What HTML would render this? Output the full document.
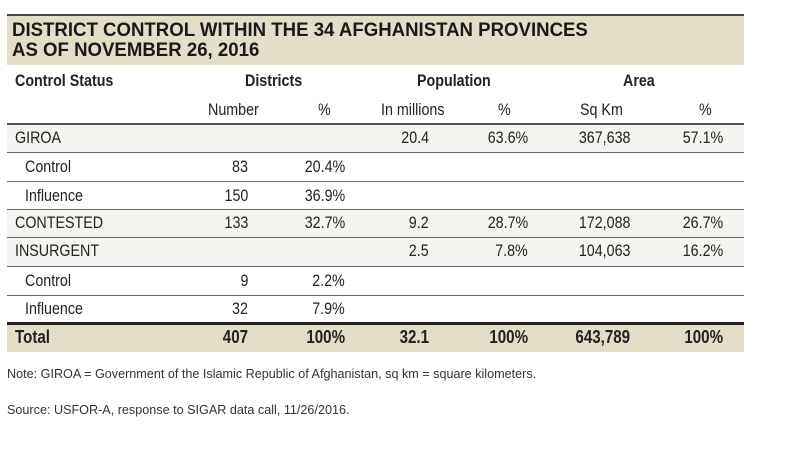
<!DOCTYPE html>
<html><head><style>
body{margin:0;width:800px;height:450px;background:#fff;position:relative;overflow:hidden;font-family:"Liberation Sans",sans-serif;color:#222}
.a{position:absolute}
.t{font-family:"Liberation Sans",sans-serif;font-weight:bold;font-size:19px;line-height:20px;color:#1a1a1a;transform:scaleX(.98);transform-origin:left}
.r{position:absolute;left:7px;width:737px}
.h{height:1px;background:#666}
.c{position:absolute;font-size:17px;white-space:nowrap;transform:scaleX(.84);transform-origin:left}
.R{text-align:right;transform-origin:right}
.b{font-weight:bold}
</style></head><body>
<div class="r" style="top:14px;height:2px;background:#444"></div>
<div class="r" style="top:16px;height:49px;background:#e3dec8"></div>
<div class="a t" style="left:12px;top:21px">DISTRICT CONTROL WITHIN THE 34 AFGHANISTAN PROVINCES<br>AS OF NOVEMBER 26, 2016</div>

<div class="r" style="top:124px;height:28px;background:#f6f4ee"></div>
<div class="r" style="top:210px;height:56px;background:#f6f4ee"></div>
<div class="r" style="top:324px;height:28px;background:#e3dec8"></div>

<div class="r h" style="top:123px;height:2px;background:#555"></div>
<div class="r h" style="top:152px"></div>
<div class="r h" style="top:181px"></div>
<div class="r h" style="top:209px"></div>
<div class="r h" style="top:237px"></div>
<div class="r h" style="top:266px"></div>
<div class="r h" style="top:295px"></div>
<div class="r h" style="top:322px;height:3px;background:#222"></div>

<div class="c b" style="left:15px;top:71px">Control Status</div>
<div class="c b" style="left:245px;top:71px">Districts</div>
<div class="c b" style="left:417px;top:71px">Population</div>
<div class="c b" style="left:623px;top:71px">Area</div>

<div class="c" style="left:208px;top:100px">Number</div>
<div class="c" style="left:318px;top:100px">%</div>
<div class="c" style="left:381px;top:100px">In millions</div>
<div class="c" style="left:498px;top:100px">%</div>
<div class="c" style="left:580px;top:100px">Sq Km</div>
<div class="c" style="left:699px;top:100px">%</div>

<div class="c" style="left:15px;top:128px">GIROA</div>
<div class="c" style="left:25px;top:157px">Control</div>
<div class="c" style="left:25px;top:186px">Influence</div>
<div class="c" style="left:15px;top:213px">CONTESTED</div>
<div class="c" style="left:15px;top:241px">INSURGENT</div>
<div class="c" style="left:25px;top:271px">Control</div>
<div class="c" style="left:25px;top:299px">Influence</div>
<div class="c b" style="left:15px;top:327px;font-size:18px">Total</div>

<div class="c R" style="right:552px;top:157px">83</div>
<div class="c R" style="right:552px;top:186px">150</div>
<div class="c R" style="right:552px;top:213px">133</div>
<div class="c R" style="right:552px;top:271px">9</div>
<div class="c R" style="right:552px;top:299px">32</div>
<div class="c R b" style="right:552px;top:327px;font-size:18px">407</div>

<div class="c R" style="right:455px;top:157px">20.4%</div>
<div class="c R" style="right:455px;top:186px">36.9%</div>
<div class="c R" style="right:455px;top:213px">32.7%</div>
<div class="c R" style="right:455px;top:271px">2.2%</div>
<div class="c R" style="right:455px;top:299px">7.9%</div>
<div class="c R b" style="right:455px;top:327px;font-size:18px">100%</div>

<div class="c R" style="right:371px;top:128px">20.4</div>
<div class="c R" style="right:371px;top:213px">9.2</div>
<div class="c R" style="right:371px;top:241px">2.5</div>
<div class="c R b" style="right:371px;top:327px;font-size:18px">32.1</div>

<div class="c R" style="right:272px;top:128px">63.6%</div>
<div class="c R" style="right:272px;top:213px">28.7%</div>
<div class="c R" style="right:272px;top:241px">7.8%</div>
<div class="c R b" style="right:272px;top:327px;font-size:18px">100%</div>

<div class="c R" style="right:170px;top:128px">367,638</div>
<div class="c R" style="right:170px;top:213px">172,088</div>
<div class="c R" style="right:170px;top:241px">104,063</div>
<div class="c R b" style="right:170px;top:327px;font-size:18px">643,789</div>

<div class="c R" style="right:77px;top:128px">57.1%</div>
<div class="c R" style="right:77px;top:213px">26.7%</div>
<div class="c R" style="right:77px;top:241px">16.2%</div>
<div class="c R b" style="right:77px;top:327px;font-size:18px">100%</div>

<div class="a" style="left:7px;top:366px;font-size:13px;color:#333;transform:scaleX(.97);transform-origin:left">Note: GIROA = Government of the Islamic Republic of Afghanistan, sq km = square kilometers.</div>
<div class="a" style="left:7px;top:402px;font-size:13px;color:#333;transform:scaleX(.97);transform-origin:left">Source: USFOR-A, response to SIGAR data call, 11/26/2016.</div>
</body></html>
